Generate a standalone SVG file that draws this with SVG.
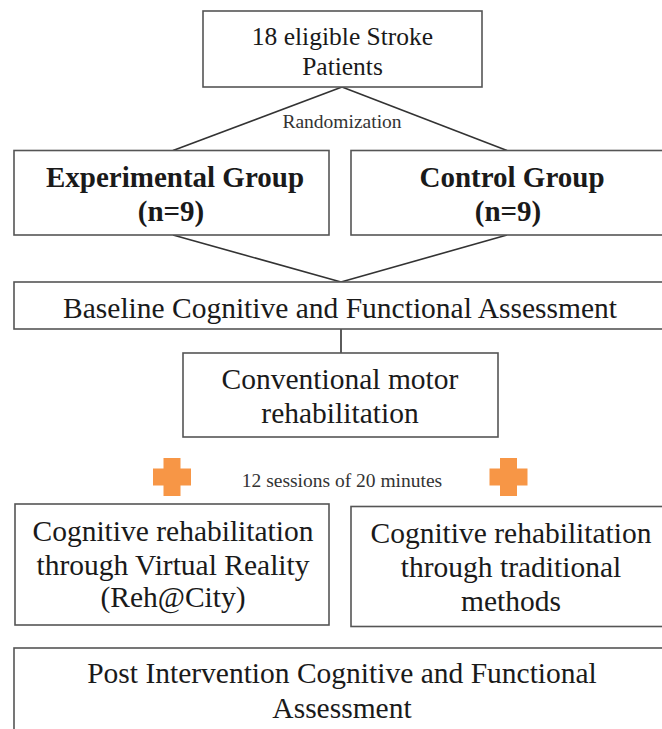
<svg xmlns="http://www.w3.org/2000/svg" width="662" height="729" viewBox="0 0 662 729">
<style>
.box{fill:#fff;stroke:#555;stroke-width:1.6}
.t{font-family:"Liberation Serif","Times New Roman",serif;fill:#1a1a1a;text-anchor:middle}
.big{font-size:29.5px}
.mid{font-size:25.5px}
.bold{font-size:29px;font-weight:bold}
.small{font-size:19.5px;fill:#333}
.conn{stroke:#333;stroke-width:1.6;fill:none}
.plus{fill:#F79646}
</style>
<rect width="662" height="729" fill="#fff"/>
<g id="connectors">
<line class="conn" x1="342" y1="87" x2="173" y2="150.5"/>
<line class="conn" x1="342" y1="87" x2="507" y2="150.5"/>
<line class="conn" x1="173" y1="235" x2="341" y2="282"/>
<line class="conn" x1="507" y1="235" x2="341" y2="282"/>
<line class="conn" x1="341" y1="329" x2="341" y2="353"/>
</g>
<g id="patients">
<rect class="box" x="203" y="11" width="279" height="76"/>
<text class="t mid" x="342.5" y="45">18 eligible Stroke</text>
<text class="t mid" x="342.5" y="75">Patients</text>
</g>
<g id="randomization">
<text class="t small" x="342" y="128">Randomization</text>
</g>
<g id="experimental">
<rect class="box" x="14" y="150.5" width="315" height="84.5"/>
<text class="t bold" x="175" y="187">Experimental Group</text>
<text class="t bold" x="171" y="221">(n=9)</text>
</g>
<g id="control">
<rect class="box" x="351" y="150.5" width="320" height="84.5"/>
<text class="t bold" x="512" y="187">Control Group</text>
<text class="t bold" x="508" y="221">(n=9)</text>
</g>
<g id="baseline">
<rect class="box" x="14" y="282" width="660" height="47"/>
<text class="t big" x="340" y="318">Baseline Cognitive and Functional Assessment</text>
</g>
<g id="conventional">
<rect class="box" x="183" y="353" width="315" height="84"/>
<text class="t big" x="340" y="389">Conventional motor</text>
<text class="t big" x="340" y="423">rehabilitation</text>
</g>
<g id="sessions">
<path class="plus" d="M163.5 458h17v10.5h10.5v17h-10.5v10.5h-17v-10.5h-10.5v-17h10.5z"/>
<path class="plus" d="M500 458h17v10.5h10.5v17h-10.5v10.5h-17v-10.5h-10.5v-17h10.5z"/>
<text class="t small" x="342" y="487">12 sessions of 20 minutes</text>
</g>
<g id="vr">
<rect class="box" x="15" y="504" width="314" height="121"/>
<text class="t big" x="173" y="541">Cognitive rehabilitation</text>
<text class="t big" x="173" y="575">through Virtual Reality</text>
<text class="t big" x="173" y="607">(Reh@City)</text>
</g>
<g id="traditional">
<rect class="box" x="351" y="506.5" width="320" height="120"/>
<text class="t big" x="511" y="543">Cognitive rehabilitation</text>
<text class="t big" x="511" y="577">through traditional</text>
<text class="t big" x="511" y="611">methods</text>
</g>
<g id="post">
<rect class="box" x="14" y="648" width="660" height="90"/>
<text class="t big" x="342" y="683">Post Intervention Cognitive and Functional</text>
<text class="t big" x="342" y="718">Assessment</text>
</g>
</svg>
